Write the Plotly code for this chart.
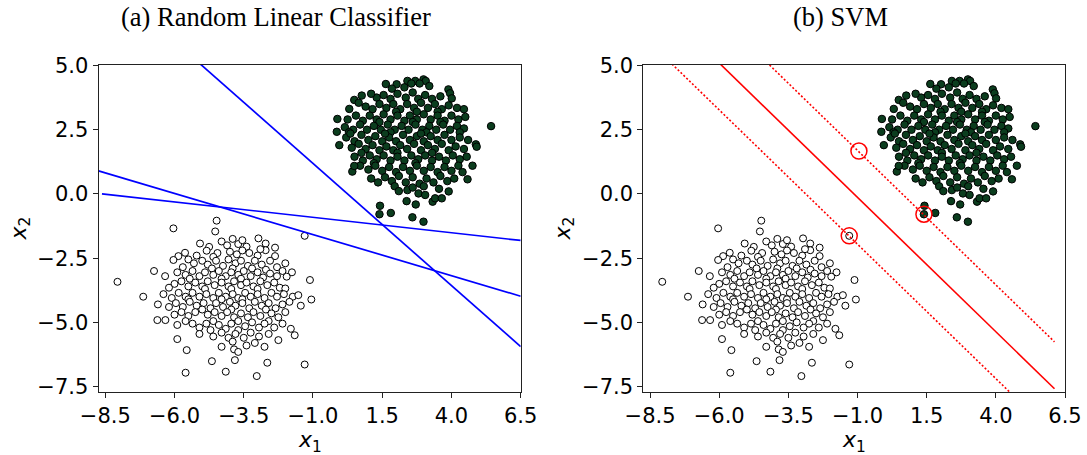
import plotly.graph_objects as go

# ---------------- data ----------------
x_tick_vals = [-8.5, -6.0, -3.5, -1.0, 1.5, 4.0, 6.5]
y_tick_vals = [-7.5, -5.0, -2.5, 0.0, 2.5, 5.0]
x_range = [-8.745, 6.5]
y_range = [-7.71, 5.02]

titles = ["(a) Random Linear Classifier", "(b) SVM"]

# class 0 (white) points  (x1, x2)
white_pts = [
    (-4.48, -1.04), (-4.53, -1.46), (-6.04, -1.34), (-2.97, -1.73), (-1.30, -1.63),
    (-5.08, -1.93), (-4.75, -2.06), (-4.30, -1.85), (-4.10, -2.00), (-3.70, -1.95),
    (-3.40, -2.05), (-2.71, -1.93), (-2.37, -2.09), (-3.90, -1.75), (-3.55, -1.80),
    (-5.86, -2.42), (-5.62, -2.29), (-4.84, -2.21), (-4.45, -2.30), (-4.00, -2.25),
    (-3.75, -2.35), (-3.30, -2.30), (-3.00, -2.40), (-2.71, -2.19), (-2.37, -2.42),
    (-4.60, -2.45), (-5.20, -2.40), (-3.55, -2.20), (-2.90, -2.15),
    (-6.04, -2.57), (-5.50, -2.55), (-5.30, -2.70), (-5.00, -2.60), (-4.80, -2.75),
    (-4.50, -2.60), (-4.25, -2.80), (-4.05, -2.55), (-3.80, -2.70), (-3.60, -2.60),
    (-3.35, -2.80), (-3.10, -2.60), (-2.85, -2.75), (-2.55, -2.60), (-2.30, -2.85),
    (-2.00, -2.70), (-5.70, -2.85), (-4.65, -2.90), (-3.90, -2.90), (-3.20, -2.90),
    (-2.70, -2.95),
    (-6.74, -3.00), (-6.34, -3.20), (-5.90, -3.05), (-5.60, -3.15), (-5.35, -3.00),
    (-5.10, -3.20), (-4.90, -3.05), (-4.60, -3.15), (-4.40, -3.00), (-4.15, -3.20),
    (-3.95, -3.05), (-3.70, -3.15), (-3.50, -3.00), (-3.25, -3.20), (-3.00, -3.05),
    (-2.80, -3.25), (-2.55, -3.10), (-2.30, -3.20), (-1.76, -3.05), (-1.95, -3.22),
    (-2.10, -3.00), (-5.45, -3.30), (-4.30, -3.30), (-3.60, -3.30),
    (-8.06, -3.42), (-6.00, -3.50), (-5.75, -3.40), (-5.50, -3.60), (-5.25, -3.45),
    (-5.00, -3.60), (-4.80, -3.40), (-4.55, -3.55), (-4.30, -3.45), (-4.05, -3.60),
    (-3.85, -3.40), (-3.60, -3.55), (-3.40, -3.45), (-3.15, -3.60), (-2.90, -3.40),
    (-2.65, -3.55), (-2.40, -3.45), (-2.20, -3.65), (-2.00, -3.68), (-1.11, -3.35),
    (-6.20, -3.65), (-4.90, -3.70), (-3.95, -3.70), (-3.00, -3.70),
    (-7.13, -4.00), (-6.40, -3.90), (-6.10, -4.05), (-5.85, -3.85), (-5.60, -4.00),
    (-5.35, -3.85), (-5.10, -4.00), (-4.85, -3.90), (-4.60, -4.05), (-4.40, -3.85),
    (-4.15, -4.00), (-3.90, -3.90), (-3.70, -4.05), (-3.45, -3.85), (-3.25, -4.00),
    (-3.00, -3.90), (-2.75, -4.05), (-2.50, -3.85), (-2.30, -4.00), (-1.73, -4.00),
    (-1.53, -3.94), (-1.06, -4.11), (-2.05, -3.90), (-5.50, -4.10), (-4.30, -4.10),
    (-3.55, -4.10),
    (-6.60, -4.30), (-6.20, -4.40), (-5.95, -4.25), (-5.70, -4.40), (-5.45, -4.20),
    (-5.20, -4.35), (-4.95, -4.25), (-4.70, -4.45), (-4.50, -4.25), (-4.25, -4.40),
    (-4.00, -4.20), (-3.80, -4.35), (-3.55, -4.25), (-3.30, -4.45), (-3.10, -4.20),
    (-2.85, -4.35), (-2.60, -4.25), (-2.35, -4.45), (-2.10, -4.30), (-1.44, -4.35),
    (-1.85, -4.20), (-5.00, -4.50), (-3.95, -4.50), (-2.70, -4.50),
    (-6.62, -4.91), (-6.33, -4.91), (-6.00, -4.70), (-5.75, -4.60), (-5.50, -4.75),
    (-5.25, -4.60), (-4.80, -4.70), (-4.55, -4.60), (-4.30, -4.75), (-4.10, -4.60),
    (-3.85, -4.80), (-3.60, -4.65), (-3.35, -4.80), (-3.15, -4.60), (-2.90, -4.75),
    (-2.50, -4.65), (-2.25, -4.80), (-2.00, -4.60), (-5.60, -4.95), (-4.60, -4.95),
    (-3.70, -4.95), (-2.60, -4.95),
    (-5.90, -5.10), (-5.35, -5.05), (-5.10, -5.20), (-4.85, -5.05), (-4.40, -5.10),
    (-4.15, -5.25), (-3.95, -5.05), (-3.45, -5.15), (-3.20, -5.00), (-2.95, -5.20),
    (-2.75, -5.05), (-2.40, -5.20), (-2.10, -5.05), (-4.70, -5.30), (-3.70, -5.30),
    (-1.80, -5.25),
    (-5.90, -5.65), (-5.10, -5.45), (-4.60, -5.55), (-4.30, -5.40), (-4.05, -5.60),
    (-3.80, -5.45), (-3.50, -5.60), (-3.25, -5.40), (-2.95, -5.55), (-2.60, -5.45),
    (-2.25, -5.69), (-1.66, -5.50), (-3.90, -5.75), (-3.10, -5.80),
    (-5.56, -6.08), (-4.30, -5.95), (-3.85, -6.05), (-3.70, -6.15), (-3.40, -5.90),
    (-2.75, -5.95),
    (-5.60, -6.96), (-4.65, -6.51), (-4.15, -6.92), (-3.82, -6.47), (-3.03, -7.09),
    (-2.65, -6.57), (-1.30, -6.64),
]

# class 1 (green) points  (x1, x2)
green_pts = [
    (1.63, 4.28), (2.02, 4.27), (2.41, 4.40), (2.69, 4.40), (2.99, 4.46), (3.07, 4.40),
    (3.89, 4.07), (2.55, 4.30), (2.85, 4.30), (1.85, 4.10), (2.30, 4.15), (3.20, 4.20),
    (0.49, 3.66), (0.76, 3.83), (3.95, 3.92), (4.01, 3.72), (1.30, 3.75), (1.55, 3.85),
    (1.80, 3.70), (2.05, 3.90), (2.35, 3.75), (2.60, 3.95), (2.80, 3.70), (3.05, 3.85),
    (3.30, 3.70), (3.60, 3.80), (1.10, 3.90),
    (0.31, 3.31), (0.90, 3.40), (1.15, 3.30), (1.40, 3.50), (1.65, 3.35), (1.90, 3.50),
    (2.15, 3.30), (2.40, 3.50), (2.65, 3.35), (2.90, 3.55), (3.15, 3.35), (3.40, 3.50),
    (3.65, 3.30), (3.90, 3.45), (4.20, 3.35), (4.45, 3.30), (0.65, 3.55), (2.00, 3.20),
    (2.75, 3.20), (3.50, 3.20),
    (-0.12, 2.92), (0.25, 2.90), (0.55, 3.05), (0.80, 2.85), (1.05, 3.05), (1.30, 2.90),
    (1.55, 3.10), (1.80, 2.90), (2.05, 3.05), (2.30, 2.85), (2.50, 3.05), (2.75, 2.90),
    (3.00, 3.10), (3.25, 2.90), (3.50, 3.05), (3.75, 2.85), (4.00, 3.05), (4.25, 2.90),
    (4.50, 3.00), (1.40, 2.80), (2.60, 2.80), (3.60, 2.80),
    (-0.14, 2.42), (0.15, 2.60), (0.45, 2.50), (0.70, 2.70), (0.95, 2.50), (1.20, 2.65),
    (1.45, 2.50), (1.70, 2.70), (1.95, 2.50), (2.20, 2.65), (2.45, 2.50), (2.70, 2.70),
    (2.95, 2.50), (3.20, 2.65), (3.45, 2.50), (3.70, 2.70), (3.95, 2.50), (4.20, 2.65),
    (4.45, 2.55), (5.43, 2.64), (0.30, 2.40), (1.80, 2.40), (3.10, 2.40), (4.30, 2.40),
    (-0.05, 1.90), (0.20, 2.20), (0.50, 2.05), (0.75, 2.30), (1.00, 2.10), (1.25, 2.25),
    (1.50, 2.05), (1.75, 2.20), (2.00, 2.05), (2.25, 2.30), (2.50, 2.10), (2.75, 2.25),
    (3.00, 2.05), (3.25, 2.25), (3.50, 2.10), (3.75, 2.30), (4.00, 2.10), (4.30, 2.20),
    (4.60, 2.10), (0.35, 2.35), (1.60, 2.35), (2.90, 2.35),
    (0.40, 1.80), (0.65, 1.95), (0.90, 1.75), (1.15, 1.90), (1.40, 1.70), (1.65, 1.85),
    (1.90, 1.70), (2.15, 1.90), (2.40, 1.75), (2.65, 1.95), (2.90, 1.70), (3.15, 1.90),
    (3.40, 1.75), (3.65, 1.95), (3.90, 1.70), (4.15, 1.85), (4.88, 1.93), (4.91, 1.84),
    (4.45, 1.75), (0.75, 1.60), (2.05, 1.60), (3.30, 1.60),
    (0.50, 1.45), (0.80, 1.30), (1.05, 1.50), (1.30, 1.35), (1.55, 1.50), (1.80, 1.30),
    (2.05, 1.45), (2.30, 1.30), (2.55, 1.50), (2.80, 1.35), (3.05, 1.50), (3.30, 1.30),
    (3.55, 1.45), (3.80, 1.30), (4.05, 1.50), (4.30, 1.35), (4.55, 1.45), (1.20, 1.20),
    (2.70, 1.20),
    (0.42, 0.87), (0.70, 1.10), (0.49, 1.09), (1.00, 0.95), (1.25, 1.10), (1.50, 0.90),
    (1.75, 1.05), (2.00, 0.85), (2.25, 1.05), (2.50, 0.90), (2.75, 1.10), (3.00, 0.90),
    (3.25, 1.05), (3.50, 0.85), (3.75, 1.05), (4.00, 0.90), (4.25, 1.10), (4.76, 1.10),
    (4.40, 0.85),
    (1.10, 0.60), (1.35, 0.45), (1.60, 0.65), (1.85, 0.50), (2.10, 0.70), (2.35, 0.45),
    (2.60, 0.65), (2.85, 0.40), (3.10, 0.60), (3.35, 0.45), (3.60, 0.70), (3.85, 0.50),
    (4.10, 0.60), (4.58, 0.57), (1.95, 0.30), (3.00, 0.30),
    (2.10, 0.11), (2.41, 0.15), (2.81, 0.02), (3.05, -0.04), (3.32, -0.30), (3.41, -0.17),
    (3.65, -0.17), (3.90, 0.10), (2.60, 0.25), (3.55, 0.20),
    (1.42, -0.46), (1.40, -0.79), (1.81, -0.74), (2.59, -0.91), (2.99, -1.08),
    (2.38, -0.28), (2.71, -0.41),
]

# (a) three random separating lines: x2 = slope * x1 + intercept
rand_slopes = [-0.951, -0.32, -0.12]
rand_intercepts = [0.236, -1.90, -1.03]
rand_x_start = [-8.745, -8.745, -8.62]
rand_x_end = [6.5, 6.5, 6.5]

# (b) SVM decision boundary and margins
svm_slope = -1.046
svm_intercept = -1.18
svm_margin = 1.825
svm_x_start = -8.745
svm_x_end = 6.12
support_vectors = [(-0.95, 1.67), (1.40, -0.79), (-1.30, -1.63)]

# ---------------- figure ----------------
W, H = 1087, 455
GREEN = "#0b3d1e"
TICK_FONT = dict(family="DejaVu Sans", size=21, color="black")

wx = [p[0] for p in white_pts]
wy = [p[1] for p in white_pts]
gx = [p[0] for p in green_pts]
gy = [p[1] for p in green_pts]

fig = go.Figure()


def add_points(xref, yref):
    fig.add_trace(go.Scatter(
        x=wx, y=wy, mode="markers", xaxis=xref, yaxis=yref, showlegend=False,
        marker=dict(size=7, color="white", line=dict(color="black", width=1))))
    fig.add_trace(go.Scatter(
        x=gx, y=gy, mode="markers", xaxis=xref, yaxis=yref, showlegend=False,
        marker=dict(size=7.5, color=GREEN, line=dict(color="black", width=1))))


# panel (a)
add_points("x", "y")
for m, c, xs, xe in zip(rand_slopes, rand_intercepts, rand_x_start, rand_x_end):
    fig.add_trace(go.Scatter(
        x=[xs, xe], y=[m * xs + c, m * xe + c], mode="lines", xaxis="x", yaxis="y",
        showlegend=False, line=dict(color="#0000ff", width=1.7)))

# panel (b)
add_points("x2", "y2")
for off, dash in [(0.0, "solid"), (-svm_margin, "2px,2px"), (svm_margin, "2px,2px")]:
    c = svm_intercept + off
    fig.add_trace(go.Scatter(
        x=[svm_x_start, svm_x_end],
        y=[svm_slope * svm_x_start + c, svm_slope * svm_x_end + c],
        mode="lines", xaxis="x2", yaxis="y2", showlegend=False,
        line=dict(color="#ff0000", width=1.6, dash=dash)))
fig.add_trace(go.Scatter(
    x=[p[0] for p in support_vectors], y=[p[1] for p in support_vectors],
    mode="markers", xaxis="x2", yaxis="y2", showlegend=False,
    marker=dict(symbol="circle-open", size=16, color="#ff0000", line=dict(width=1.5))))

# layout: pixel-based domains
ax_l = (98.5, 520.7)
ax_r = (643.3, 1065.0)
ax_top, ax_bot = 65.0, 392.0
ydom = [(H - ax_bot) / H, (H - ax_top) / H]

axis_common = dict(
    showgrid=False, zeroline=False, showline=True, mirror=True, automargin=False,
    linecolor="#222222", linewidth=1, ticks="outside", ticklen=5, tickwidth=1,
    tickcolor="#222222", tickfont=TICK_FONT, tickformat=".1f",
)

fig.update_layout(
    width=W, height=H, margin=dict(l=0, r=0, t=0, b=0, autoexpand=False),
    paper_bgcolor="white", plot_bgcolor="white", showlegend=False,
    xaxis=dict(axis_common, domain=[ax_l[0] / W, ax_l[1] / W], range=x_range,
               tickvals=x_tick_vals, anchor="y"),
    yaxis=dict(axis_common, domain=ydom, range=y_range, tickvals=y_tick_vals, anchor="x"),
    xaxis2=dict(axis_common, domain=[ax_r[0] / W, ax_r[1] / W], range=x_range,
                tickvals=x_tick_vals, anchor="y2"),
    yaxis2=dict(axis_common, domain=ydom, range=y_range, tickvals=y_tick_vals, anchor="x2"),
)

ann = []
title_cx = [276, 840]
for t, cx in zip(titles, title_cx):
    ann.append(dict(text=t, x=cx / W, y=1 - 17 / H, xref="paper", yref="paper",
                    xanchor="center", yanchor="middle", showarrow=False,
                    font=dict(family="Liberation Serif", size=26.5, color="black")))
label_font = dict(family="DejaVu Sans", size=22, color="black")
for (l, r), ylab_x in [(ax_l, 20), (ax_r, 564)]:
    ann.append(dict(text="<i>x</i><sub>1</sub>", x=(l + r) / 2 / W, y=1 - 441 / H,
                    xref="paper", yref="paper", xanchor="center", yanchor="middle",
                    showarrow=False, font=label_font))
    ann.append(dict(text="<i>x</i><sub>2</sub>", x=ylab_x / W, y=1 - 228.5 / H,
                    xref="paper", yref="paper", xanchor="center", yanchor="middle",
                    showarrow=False, textangle=-90, font=label_font))
fig.update_layout(annotations=ann)

fig.write_html(
    "out.html",
    config={"displayModeBar": False},
    post_script="document.body.style.margin='0';document.body.style.overflow='hidden';",
)
